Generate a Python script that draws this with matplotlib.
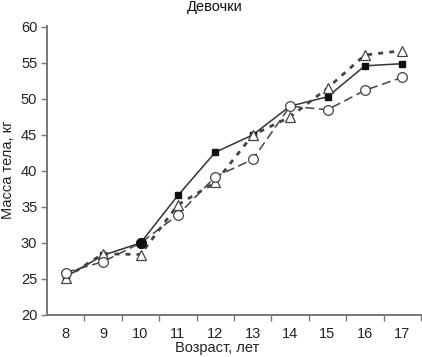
import matplotlib
matplotlib.use("Agg")
import matplotlib.pyplot as plt
from matplotlib.ticker import FixedLocator

plt.rcParams['font.family'] = ['Liberation Sans', 'DejaVu Sans']
plt.rcParams['font.size'] = 10.5

ages = [8, 9, 10, 11, 12, 13, 14, 15, 16, 17]
squares = [25.3, 28.3, 30.0, 36.6, 42.6, 45.0, 49.0, 50.3, 54.6, 54.9]
circles = [25.9, 27.4, 30.0, 33.9, 39.2, 41.6, 49.0, 48.5, 51.2, 53.0]
triangles = [25.2, 28.5, 28.4, 35.3, 38.4, 45.0, 47.5, 51.5, 56.1, 56.7]
yticks = [20, 25, 30, 35, 40, 45, 50, 55, 60]

title = "Девочки"
xlabel = "Возраст, лет"
ylabel = "Масса тела, кг"

fig = plt.figure(figsize=(4.22, 3.57), dpi=100)
ax = fig.add_axes([47/422, 1-315/357, (421-47)/422, (315-25.5)/357])

ax.plot(ages, squares, color='#333333', lw=1.1, ls='-', marker='s', ms=5,
        mfc='#111111', mec='#111111', zorder=3)
ax.plot(ages, triangles, color='#444444', lw=2.0, ls=(0, (1.8, 2.2)), marker='^', ms=7,
        mfc='white', mec='#444444', mew=0.9, zorder=4)
ax.plot(ages, circles, color='#444444', lw=1.1, ls=(0, (6, 3)), marker='o', ms=7,
        mfc='white', mec='#444444', mew=0.9, zorder=5)
# filled circle at age 10 as in the source
ax.plot([ages[2]], [circles[2]], ls='none', marker='o', ms=7, mfc='#111111',
        mec='#111111', zorder=6)

ax.set_xlim(7.5, 17.5)
ax.set_ylim(20, 60.2)
ax.set_yticks(yticks)
ax.set_xticks(ages)
ax.xaxis.set_minor_locator(FixedLocator([a + 0.5 for a in ages]))
ax.tick_params(axis='x', which='major', length=0, pad=9, labelsize=10.5, colors='#222222')
ax.tick_params(axis='x', which='minor', length=4, width=1.0, color='#777777', direction='out')
ax.tick_params(axis='y', length=4, width=1.0, color='#777777', pad=3, labelsize=10.5,
               labelcolor='#222222')

for s in ['top', 'right']:
    ax.spines[s].set_visible(False)
for s in ['left', 'bottom']:
    ax.spines[s].set_color('#777777')
    ax.spines[s].set_linewidth(1.4)

fig.text(215/422, 1-7/357, title, ha='center', va='center', fontsize=10.5,
         color='#111111')
fig.text(217/422, 1-348/357, xlabel, ha='center', va='center', fontsize=10.5, color='#222222')
fig.text(8/422, 1-170/357, ylabel, ha='center', va='center', rotation=90, fontsize=10.5,
         color='#222222')

fig.savefig("out.png", dpi=100)
